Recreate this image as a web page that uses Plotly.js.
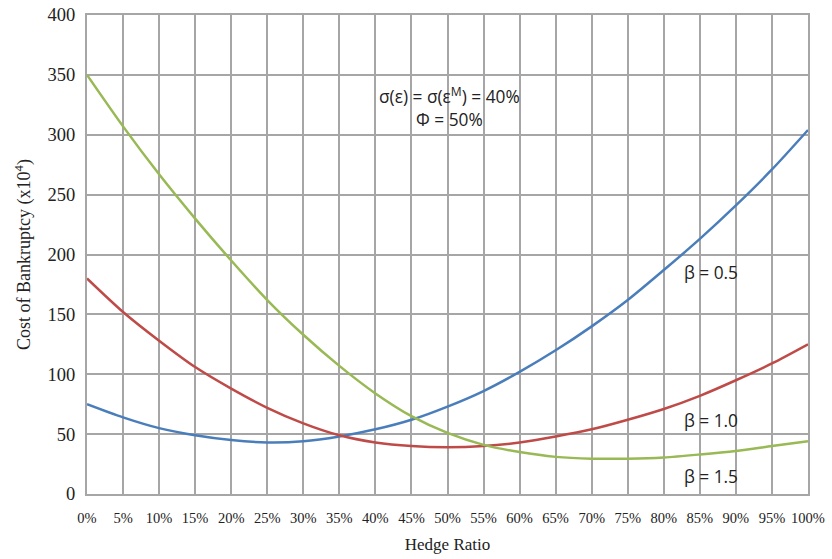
<!DOCTYPE html>
<html><head><meta charset="utf-8">
<script src="https://cdn.plot.ly/plotly-3.0.1.min.js"></script>
<style>body{margin:0;background:#fff}#c{width:832px;height:559px}</style>
</head><body><div id="c"></div>
<script>
const hedge = [0,5,10,15,20,25,30,35,40,45,50,55,60,65,70,75,80,85,90,95,100];
const beta05 = [75,64,55,49,45,43,44,48,54,62,73,86,102,120,140,162,187,213,241,271,304];
const beta10 = [180,152,128,106,88,72,59,49,43,40,39,40,43,48,54,62,71,82,95,109,125];
const beta15 = [350,307,267,230,195,162,133,107,84,65,51,41,35,31,29.5,29.5,30.5,33,36,40,44];
const yTicks = [0,50,100,150,200,250,300,350,400];

const mk = (y, c) => ({x: hedge, y: y, type: 'scatter', mode: 'lines',
  line: {color: c, width: 2.5, shape: 'spline', smoothing: 0.8}, hoverinfo: 'skip'});
const data = [mk(beta05, '#4a7ebb'), mk(beta10, '#be4b48'), mk(beta15, '#98b954')];
const serif = 'Liberation Serif, Times New Roman, serif';
const annFont = {family: 'Open Sans, Liberation Sans, sans-serif', size: 17.3, color: '#222'};
const layout = {
  width: 832, height: 559, showlegend: false,
  margin: {l: 87, r: 24, t: 15, b: 65},
  paper_bgcolor: '#fff', plot_bgcolor: '#fff',
  xaxis: {range: [0, 100], tickvals: hedge, ticktext: hedge.map(v => v + '%'),
    showgrid: true, gridcolor: '#a6a6a6', gridwidth: 2, zeroline: false,
    showline: true, linecolor: '#a6a6a6', linewidth: 2, mirror: true,
    ticks: '', ticklabelstandoff: 10, tickfont: {family: serif, size: 14.5, color: '#222'},
    title: {text: 'Hedge Ratio', font: {family: serif, size: 17, color: '#222'}, standoff: 13}},
  yaxis: {range: [0, 400], tickvals: yTicks,
    showgrid: true, gridcolor: '#a6a6a6', gridwidth: 2, zeroline: false,
    showline: true, linecolor: '#a6a6a6', linewidth: 2, mirror: true,
    ticks: '', ticklabelstandoff: 6, tickfont: {family: serif, size: 18.5, color: '#222'},
    title: {text: 'Cost of Bankruptcy (x10<sup>4</sup>)', font: {family: serif, size: 18, color: '#222'}, standoff: 12}},
  annotations: [
    {x: 50.3, y: 333, xref: 'x', yref: 'y', text: 'σ(ε) = σ(ε<sup>M</sup>) = 40%', showarrow: false, font: annFont},
    {x: 50.3, y: 313, xref: 'x', yref: 'y', text: 'Φ = 50%', showarrow: false, font: annFont},
    {x: 86.5, y: 185, xref: 'x', yref: 'y', text: 'β = 0.5', showarrow: false, font: annFont},
    {x: 86.5, y: 61, xref: 'x', yref: 'y', text: 'β = 1.0', showarrow: false, font: annFont},
    {x: 86.5, y: 15, xref: 'x', yref: 'y', text: 'β = 1.5', showarrow: false, font: annFont}
  ]
};
Plotly.newPlot('c', data, layout, {displayModeBar: false, staticPlot: true});
</script></body></html>
